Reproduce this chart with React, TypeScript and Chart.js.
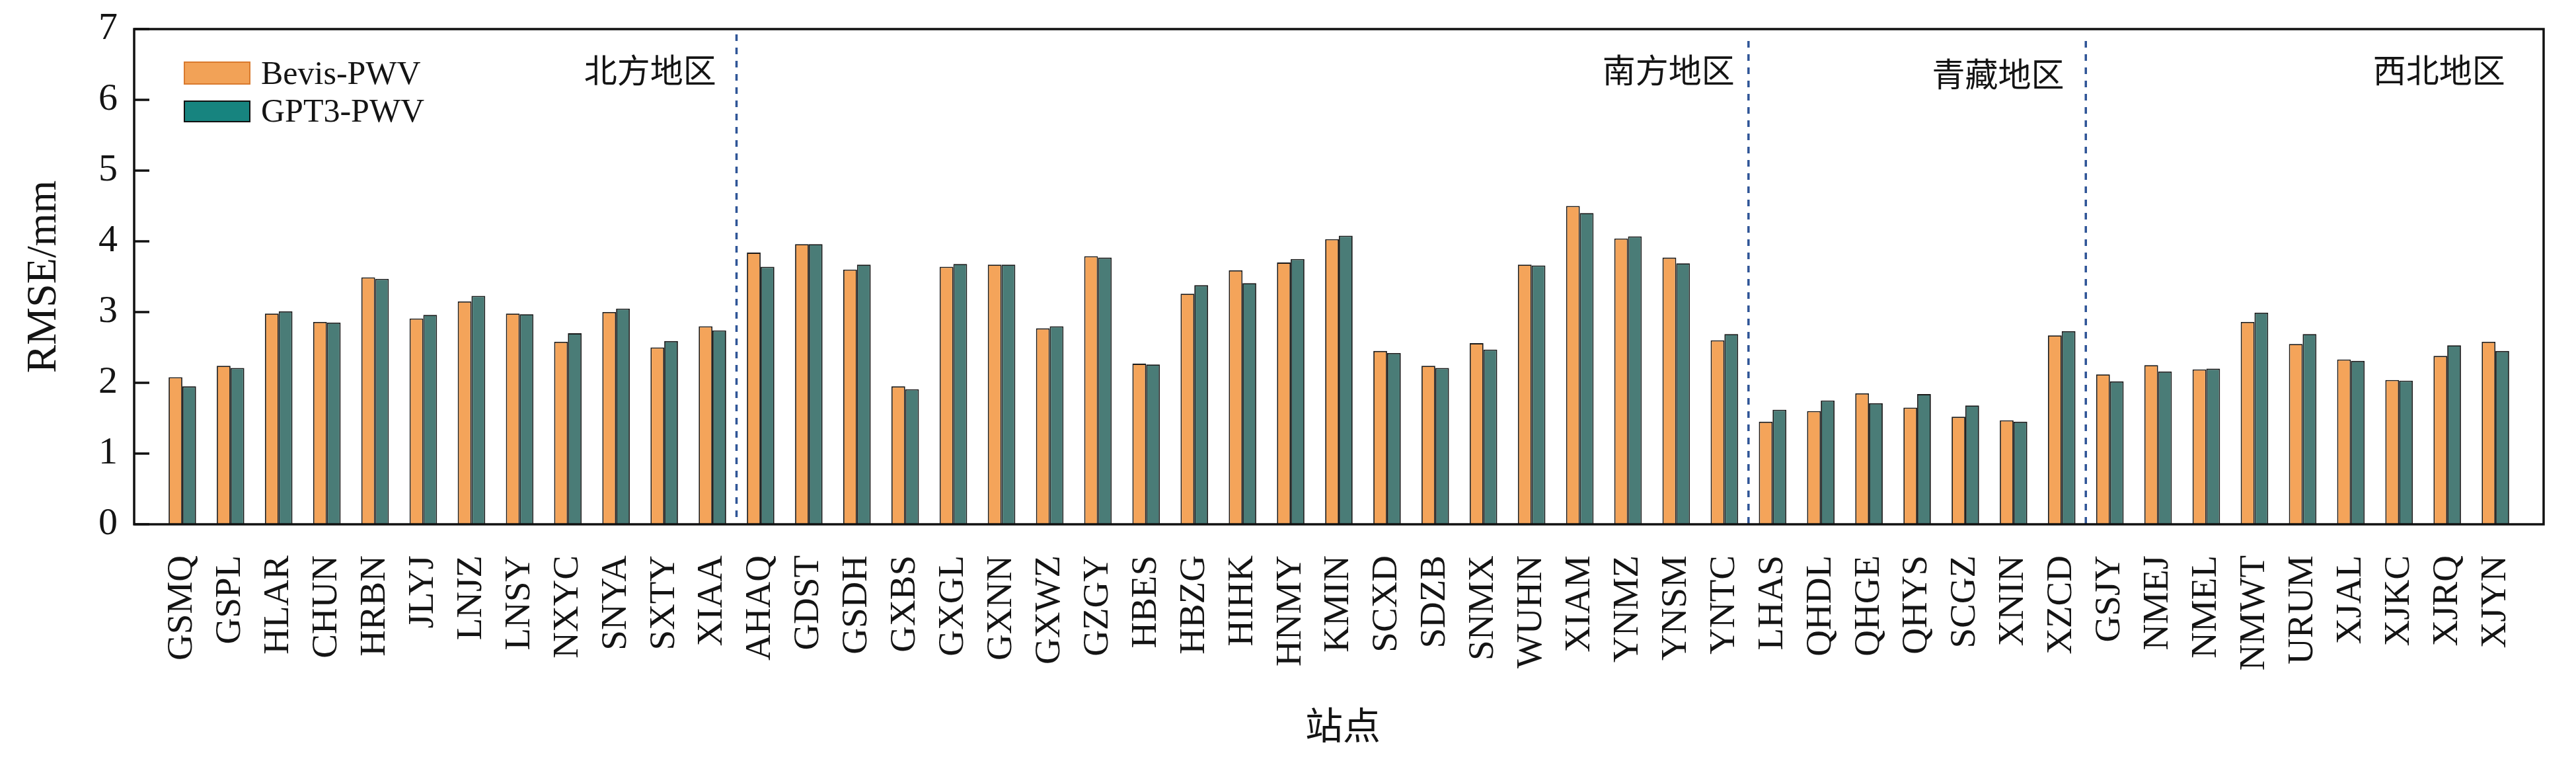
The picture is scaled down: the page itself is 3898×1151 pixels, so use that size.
import React, { useEffect, useRef } from 'react';
import { Chart, registerables } from 'chart.js';

Chart.register(...registerables);

const STATIONS = [
  'GSMQ', 'GSPL', 'HLAR', 'CHUN', 'HRBN', 'JLYJ', 'LNJZ', 'LNSY', 'NXYC', 'SNYA', 'SXTY', 'XIAA',
  'AHAQ', 'GDST', 'GSDH', 'GXBS', 'GXGL', 'GXNN', 'GXWZ', 'GZGY', 'HBES', 'HBZG', 'HIHK', 'HNMY',
  'KMIN', 'SCXD', 'SDZB', 'SNMX', 'WUHN', 'XIAM', 'YNMZ', 'YNSM', 'YNTC',
  'LHAS', 'QHDL', 'QHGE', 'QHYS', 'SCGZ', 'XNIN', 'XZCD',
  'GSJY', 'NMEJ', 'NMEL', 'NMWT', 'URUM', 'XJAL', 'XJKC', 'XJRQ', 'XJYN',
];

const BEVIS_PWV = [
  2.08, 2.24, 2.98, 2.86, 3.49, 2.91, 3.15, 2.98, 2.58, 3.0, 2.5, 2.8,
  3.84, 3.96, 3.6, 1.95, 3.64, 3.67, 2.77, 3.79, 2.27, 3.26, 3.59, 3.7,
  4.03, 2.45, 2.24, 2.56, 3.67, 4.5, 4.04, 3.77, 2.6,
  1.45, 1.6, 1.85, 1.65, 1.52, 1.47, 2.67,
  2.12, 2.25, 2.19, 2.86, 2.55, 2.33, 2.04, 2.38, 2.58,
];

const GPT3_PWV = [
  1.95, 2.21, 3.01, 2.85, 3.47, 2.96, 3.23, 2.97, 2.7, 3.05, 2.59, 2.74,
  3.64, 3.96, 3.67, 1.91, 3.68, 3.67, 2.8, 3.77, 2.26, 3.38, 3.41, 3.75,
  4.08, 2.42, 2.21, 2.47, 3.66, 4.4, 4.07, 3.69, 2.69,
  1.62, 1.75, 1.71, 1.84, 1.68, 1.45, 2.73,
  2.02, 2.16, 2.2, 2.99, 2.69, 2.31, 2.03, 2.53, 2.45,
];

const SERIES_NAMES = ['Bevis-PWV', 'GPT3-PWV'];
const REGION_NAMES = ['北方地区', '南方地区', '青藏地区', '西北地区'];
// boundaries between regions (between category indices)
const REGION_BOUNDARIES = [11.5, 32.5, 39.5];
const Y_TICKS = [0, 1, 2, 3, 4, 5, 6, 7];
const Y_TITLE = 'RMSE/mm';
const X_TITLE = '站点';

// styling / layout
const W = 3898;
const H = 1151;
const AREA = { left: 203, top: 44, right: 3849, bottom: 793 };
const COLORS = {
  bevis: '#F4A45A',
  gpt3: '#4A7C77',
  legendBevis: '#F2A257',
  legendBevisBorder: '#D97A2E',
  legendGpt3: '#17847F',
  dash: '#2F5597',
  text: '#141414',
};
const REGION_LABEL_RIGHT = [11.08, 32.21, 39.05, 48.2];
const REGION_LABEL_Y = [106, 106, 112, 106];
const DASH_TOP = [52, 62, 62];
const LATIN = "'Liberation Serif', 'Times New Roman', serif";
const CJK = "'Noto Sans CJK SC', sans-serif";

export default function App() {
  const ref = useRef<HTMLCanvasElement>(null);

  useEffect(() => {
    const canvas = ref.current;
    if (!canvas) return;

    const overlay = {
      id: 'overlay',
      afterDatasetsDraw(chart: any) {
        const ctx = chart.ctx as CanvasRenderingContext2D;
        const xs = chart.scales.x;
        const ys = chart.scales.y;
        const ca = chart.chartArea;
        ctx.save();

        // region dashed separators
        ctx.strokeStyle = COLORS.dash;
        ctx.lineWidth = 3.5;
        ctx.setLineDash([10, 10]);
        REGION_BOUNDARIES.forEach((b, i) => {
          const x = xs.getPixelForValue(b);
          ctx.beginPath();
          ctx.moveTo(x, DASH_TOP[i]);
          ctx.lineTo(x, ca.bottom);
          ctx.stroke();
        });
        ctx.setLineDash([]);

        // region labels
        ctx.fillStyle = COLORS.text;
        ctx.font = `50px ${CJK}`;
        ctx.textAlign = 'right';
        ctx.textBaseline = 'middle';
        REGION_NAMES.forEach((name, i) => {
          ctx.fillText(name, xs.getPixelForValue(REGION_LABEL_RIGHT[i]), REGION_LABEL_Y[i]);
        });

        // legend
        const boxL = 279, boxW = 99;
        ctx.lineWidth = 2;
        ctx.fillStyle = COLORS.legendBevis;
        ctx.fillRect(boxL, 94, boxW, 33);
        ctx.strokeStyle = COLORS.legendBevisBorder;
        ctx.strokeRect(boxL, 94, boxW, 33);
        ctx.fillStyle = COLORS.legendGpt3;
        ctx.fillRect(boxL, 153, boxW, 31);
        ctx.strokeStyle = '#111';
        ctx.strokeRect(boxL, 153, boxW, 31);
        ctx.fillStyle = COLORS.text;
        ctx.font = `50px ${LATIN}`;
        ctx.textAlign = 'left';
        ctx.textBaseline = 'alphabetic';
        ctx.fillText(SERIES_NAMES[0], 395, 127);
        ctx.fillText(SERIES_NAMES[1], 395, 184);

        // inward y tick marks
        ctx.strokeStyle = '#111';
        ctx.lineWidth = 3.5;
        Y_TICKS.forEach((t) => {
          const y = ys.getPixelForValue(t);
          ctx.beginPath();
          ctx.moveTo(ca.left, y);
          ctx.lineTo(ca.left + 23, y);
          ctx.stroke();
        });

        // frame
        ctx.lineWidth = 3.5;
        ctx.strokeRect(ca.left, ca.top, ca.right - ca.left, ca.bottom - ca.top);

        // axis titles
        ctx.fillStyle = COLORS.text;
        ctx.save();
        ctx.translate(84, (ca.top + ca.bottom) / 2);
        ctx.rotate(-Math.PI / 2);
        ctx.font = `64px ${LATIN}`;
        ctx.textAlign = 'center';
        ctx.textBaseline = 'alphabetic';
        ctx.fillText(Y_TITLE, 0, 0);
        ctx.restore();

        ctx.font = `57px ${CJK}`;
        ctx.textAlign = 'center';
        ctx.textBaseline = 'middle';
        ctx.fillText(X_TITLE, (ca.left + ca.right) / 2 + 6, 1096);

        ctx.restore();
      },
    };

    const chart = new Chart(canvas, {
      type: 'bar',
      data: {
        datasets: [
          {
            label: SERIES_NAMES[0],
            data: BEVIS_PWV.map((v, i) => ({ x: i, y: v })),
            backgroundColor: COLORS.bevis,
            borderColor: '#1a1a1a',
            borderWidth: 1.8,
            categoryPercentage: 0.57,
            barPercentage: 1.0,
          },
          {
            label: SERIES_NAMES[1],
            data: GPT3_PWV.map((v, i) => ({ x: i, y: v })),
            backgroundColor: COLORS.gpt3,
            borderColor: '#1a1a1a',
            borderWidth: 1.8,
            categoryPercentage: 0.57,
            barPercentage: 1.0,
          },
        ],
      },
      options: {
        responsive: false,
        animation: false,
        devicePixelRatio: 1,
        layout: { padding: { left: 0, top: AREA.top, right: W - AREA.right, bottom: 0 } },
        plugins: { legend: { display: false }, tooltip: { enabled: false } },
        scales: {
          x: {
            type: 'linear',
            min: -1,
            max: STATIONS.length,
            offset: false,
            grid: { display: false, drawTicks: false },
            border: { display: false },
            ticks: {
              stepSize: 1,
              autoSkip: false,
              maxTicksLimit: 200,
              minRotation: 90,
              maxRotation: 90,
              padding: 47,
              color: COLORS.text,
              font: { family: LATIN, size: 55 },
              callback: (v: any) => {
                const n = Number(v);
                return Number.isInteger(n) && STATIONS[n] ? STATIONS[n] : '';
              },
            },
            afterFit: (s: any) => {
              s.height = H - AREA.bottom;
              s.paddingLeft = 0;
              s.paddingRight = 0;
            },
          },
          y: {
            min: Y_TICKS[0],
            max: Y_TICKS[Y_TICKS.length - 1],
            grid: { display: false, drawTicks: false },
            border: { display: false },
            ticks: {
              stepSize: 1,
              padding: 25,
              color: COLORS.text,
              font: { family: LATIN, size: 58 },
            },
            afterFit: (s: any) => {
              s.width = AREA.left;
              s.paddingTop = 0;
              s.paddingBottom = 0;
            },
          },
        },
      } as any,
      plugins: [overlay],
    });

    return () => chart.destroy();
  }, []);

  return (
    <div style={{ position: 'absolute', left: 0, top: 0, width: W, height: H, background: '#fff' }}>
      <canvas ref={ref} width={W} height={H} style={{ width: W, height: H, display: 'block' }} />
    </div>
  );
}
